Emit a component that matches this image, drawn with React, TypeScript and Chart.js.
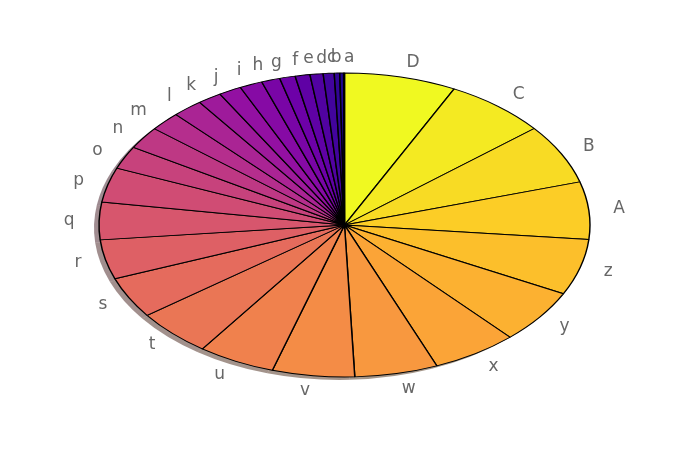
import React, { useEffect, useRef } from "react";
import { Chart, registerables } from "chart.js";

Chart.register(...registerables);

// Slice labels, in drawing order (counter-clockwise from 12 o'clock)
const sliceLabels = [
  "a", "b", "c", "d", "e", "f", "g", "h", "i", "j", "k", "l", "m", "n", "o",
  "p", "q", "r", "s", "t", "u", "v", "w", "x", "y", "z", "A", "B", "C", "D",
];

// Slice values (in degrees of the full turn)
const sliceValues = [
  0.2, 0.9, 1.3, 2.6, 3.1, 3.5, 3.7, 4.4, 5.4, 5.4, 5.7, 7.2, 7.3, 8.55, 8.75,
  13.3, 14.3, 15.1, 15.8, 18.1, 18.3, 19.5, 19.7, 20.3, 20.7, 21.4, 22.0, 22.9, 24.1, 26.5,
];

// plasma colormap stops (style only)
const plasmaStops = [
  "#0d0887", "#41049d", "#6a00a8", "#8f0da4", "#b12a90", "#cc4778",
  "#e16462", "#f2844b", "#fca636", "#fcce25", "#f0f921",
];

function hexToRgb(h: string): number[] {
  const n = parseInt(h.slice(1), 16);
  return [(n >> 16) & 255, (n >> 8) & 255, n & 255];
}

function plasma(t: number): number[] {
  const s = Math.max(0, Math.min(1, t)) * (plasmaStops.length - 1);
  const i = Math.min(Math.floor(s), plasmaStops.length - 2);
  const f = s - i;
  const a = hexToRgb(plasmaStops[i]);
  const b = hexToRgb(plasmaStops[i + 1]);
  return [0, 1, 2].map((k) => Math.round(a[k] + (b[k] - a[k]) * f));
}

const SCALE_X = 245.5 / 152; // ellipse stretch
const PIE_RADIUS = 152;
const LABEL_DIST = 1.1;
const SHADOW_DX = -5;
const SHADOW_DY = 3;

export default function App() {
  const canvasRef = useRef<HTMLCanvasElement | null>(null);

  useEffect(() => {
    if (!canvasRef.current) return;
    const n = sliceLabels.length;
    const rgb = sliceLabels.map((_, i) => plasma(i / (n - 1)));
    // Chart.js goes clockwise from the top: reverse so that "a" ends up just left of top
    const order = sliceLabels.map((_, i) => n - 1 - i);
    const labelsR = order.map((i) => sliceLabels[i]);
    const valuesR = order.map((i) => sliceValues[i]);
    const colorsR = order.map((i) => `rgb(${rgb[i][0]},${rgb[i][1]},${rgb[i][2]})`);
    const shadowR = order.map(
      (i) => `rgba(${Math.round(rgb[i][0] * 0.3)},${Math.round(rgb[i][1] * 0.3)},${Math.round(rgb[i][2] * 0.3)},0.5)`
    );

    const ellipsePlugin = {
      id: "ellipsePie",
      beforeDatasetsDraw(chart: any) {
        const arcs = chart.getDatasetMeta(0).data;
        if (!arcs.length) return;
        const cx = arcs[0].x;
        const cy = arcs[0].y;
        const r = arcs[0].outerRadius;
        const rx = r * SCALE_X;
        const ry = r;
        const ctx = chart.ctx as CanvasRenderingContext2D;
        ctx.save();
        arcs.forEach((arc: any, i: number) => {
          if (arc.endAngle - arc.startAngle <= 0) return;
          ctx.beginPath();
          ctx.moveTo(cx + SHADOW_DX, cy + SHADOW_DY);
          ctx.ellipse(cx + SHADOW_DX, cy + SHADOW_DY, rx, ry, 0, arc.startAngle, arc.endAngle);
          ctx.closePath();
          ctx.fillStyle = shadowR[i];
          ctx.fill();
        });
        ctx.restore();
        ctx.save();
        ctx.translate(cx, cy);
        ctx.scale(SCALE_X, 1);
        ctx.translate(-cx, -cy);
      },
      afterDatasetsDraw(chart: any) {
        const ctx = chart.ctx as CanvasRenderingContext2D;
        ctx.restore();
        const arcs = chart.getDatasetMeta(0).data;
        if (!arcs.length) return;
        const cx = arcs[0].x;
        const cy = arcs[0].y;
        const r = arcs[0].outerRadius;
        const rx = r * SCALE_X;
        const ry = r;
        ctx.save();
        ctx.font = '17px "DejaVu Sans", sans-serif';
        ctx.fillStyle = "#676767";
        ctx.textBaseline = "middle";
        arcs.forEach((arc: any, i: number) => {
          const mid = (arc.startAngle + arc.endAngle) / 2;
          const c = Math.cos(mid);
          const s = Math.sin(mid);
          const x = cx + LABEL_DIST * rx * c;
          const y = cy + LABEL_DIST * ry * s;
          ctx.textAlign = c > -0.005 ? "left" : "right";
          ctx.fillText(chart.data.labels[i], x, y);
        });
        ctx.restore();
      },
    };

    const chart = new Chart(canvasRef.current, {
      type: "pie",
      data: {
        labels: labelsR,
        datasets: [
          {
            data: valuesR,
            backgroundColor: colorsR,
            borderColor: "#000000",
            borderWidth: 0.9,
            clip: false as any,
          },
        ],
      },
      options: {
        animation: false,
        responsive: true,
        maintainAspectRatio: false,
        events: [],
        radius: PIE_RADIUS,
        layout: { padding: { top: 0, bottom: 2, left: 0, right: 0 } },
        plugins: {
          legend: { display: false },
          tooltip: { enabled: false },
          title: { display: false },
        },
      } as any,
      plugins: [ellipsePlugin as any],
    });

    return () => chart.destroy();
  }, []);

  return (
    <div style={{ position: "absolute", left: 0, top: 0, width: 689, height: 452, background: "#ffffff" }}>
      <canvas ref={canvasRef} />
    </div>
  );
}
